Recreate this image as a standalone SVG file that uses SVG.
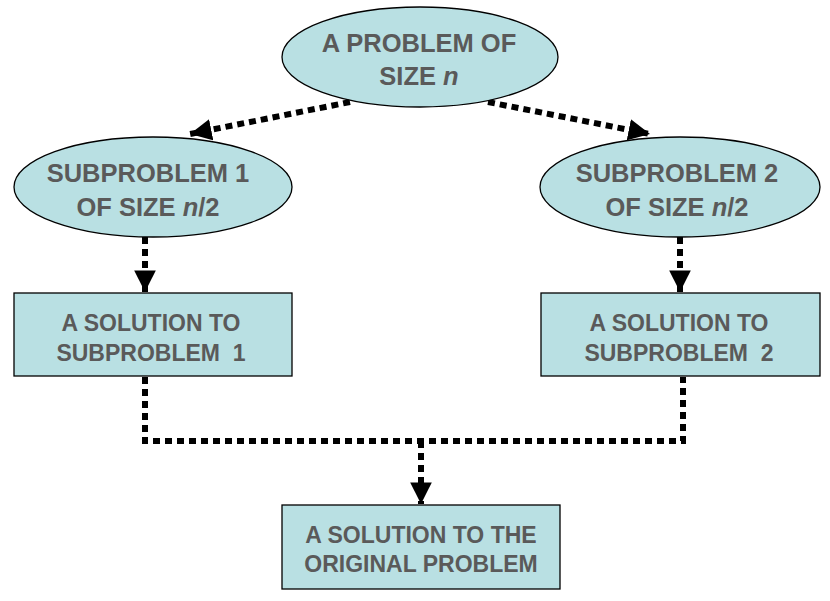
<svg xmlns="http://www.w3.org/2000/svg" width="830" height="601" viewBox="0 0 830 601">
<style>
.n{fill:#b9e0e3;stroke:#000;stroke-width:1.3}
.t{font-family:"Liberation Sans",Arial,sans-serif;font-weight:bold;fill:#5a5a5a;text-anchor:middle;white-space:pre}
.e{font-size:25.5px}
.r{font-size:23px}
.c{fill:none;stroke:#000;stroke-width:6;stroke-dasharray:7 5}
</style>
<defs>
<marker id="ah" viewBox="0 0 10 10" refX="10" refY="5" markerWidth="3.6" markerHeight="3.6" markerUnits="strokeWidth" orient="auto">
<path d="M0,0 L10,5 L0,10 Z" fill="#000"/>
</marker>
</defs>
<rect width="830" height="601" fill="#fff"/>
<g id="connectors">
<path class="c" d="M350,102 L190,134" marker-end="url(#ah)"/>
<path class="c" d="M488,102 L650,134" marker-end="url(#ah)"/>
<path class="c" d="M145,237 L145,292" marker-end="url(#ah)"/>
<path class="c" d="M680,237 L680,292" marker-end="url(#ah)"/>
<path class="c" d="M145,377 L145,441 L683,441 L683,377"/>
<path class="c" d="M421,441 L421,504" marker-end="url(#ah)"/>
</g>
<g id="top">
<ellipse class="n" cx="420" cy="57" rx="138" ry="50"/>
<text class="t e" x="419" y="52">A PROBLEM OF</text>
<text class="t e" x="419" y="85">SIZE <tspan font-style="italic">n</tspan></text>
</g>
<g id="sub1">
<ellipse class="n" cx="153" cy="187" rx="139" ry="50"/>
<text class="t e" x="148" y="182">SUBPROBLEM 1</text>
<text class="t e" x="148" y="216">OF SIZE <tspan font-style="italic">n</tspan>/2</text>
</g>
<g id="sub2">
<ellipse class="n" cx="680" cy="187" rx="140" ry="50"/>
<text class="t e" x="677" y="182">SUBPROBLEM 2</text>
<text class="t e" x="677" y="216">OF SIZE <tspan font-style="italic">n</tspan>/2</text>
</g>
<g id="sol1">
<rect class="n" x="14" y="293" width="278" height="83"/>
<text class="t r" x="151" y="331" xml:space="preserve">A SOLUTION TO</text>
<text class="t r" x="151" y="361" xml:space="preserve">SUBPROBLEM  1</text>
</g>
<g id="sol2">
<rect class="n" x="541" y="293" width="279" height="83"/>
<text class="t r" x="679" y="331" xml:space="preserve">A SOLUTION TO</text>
<text class="t r" x="679" y="361" xml:space="preserve">SUBPROBLEM  2</text>
</g>
<g id="final">
<rect class="n" x="282" y="505" width="278" height="84"/>
<text class="t r" x="421" y="543">A SOLUTION TO THE</text>
<text class="t r" x="421" y="572">ORIGINAL PROBLEM</text>
</g>
</svg>
